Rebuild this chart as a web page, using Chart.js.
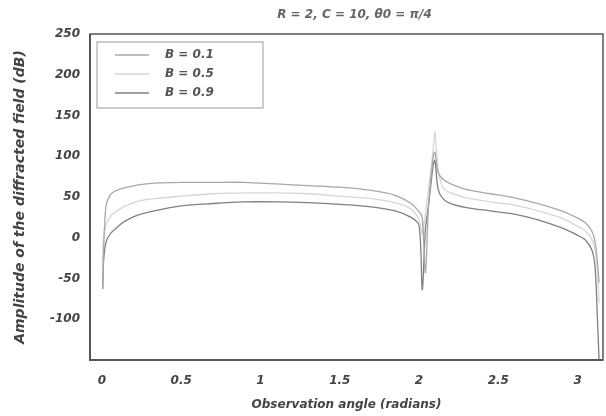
<!DOCTYPE html>
<html>
<head>
<meta charset="utf-8">
<script src="https://cdn.jsdelivr.net/npm/chart.js@4/dist/chart.umd.min.js"></script>
<style>
  html, body { margin: 0; padding: 0; background: #fff; }
  #wrap { width: 606px; height: 416px; }
</style>
</head>
<body>
<div id="wrap"><canvas id="diffChart"></canvas></div>
<script>
// observation angle (radians)
const angles = [0.005, 0.01, 0.025, 0.05, 0.08, 0.12, 0.16, 0.23, 0.33, 0.5, 0.7, 0.9, 1.1, 1.3, 1.5, 1.7, 1.85, 1.95, 2.0, 2.02, 2.04, 2.06, 2.09, 2.10, 2.12, 2.15, 2.2, 2.3, 2.45, 2.6, 2.75, 2.9, 3.0, 3.05, 3.09, 3.11, 3.125, 3.135];
// amplitude (dB)
const ampB01 = [-63, -20, 38, 52, 57, 60, 62, 65, 67, 68, 68, 68, 66, 64, 62, 58, 52, 42, 32, 25, -43, 40, 100, 105, 80, 72, 66, 59, 54, 49, 42, 33, 24, 18, 8, -5, -30, -55];
const ampB05 = [-40, 0, 15, 25, 31, 36, 40, 45, 48, 51, 54, 55, 55, 54, 51, 48, 43, 35, 22, 5, 30, 60, 110, 130, 85, 62, 55, 49, 44, 40, 33, 24, 14, 8, -2, -15, -40, -80];
const ampB09 = [-63, -31, -6, 4, 10, 17, 22, 28, 33, 39, 42, 44, 44, 43, 41, 38, 33, 25, 15, -64, 10, 40, 90, 95, 60, 48, 42, 37, 33, 29, 22, 12, 3, -3, -15, -36, -100, -150];
const seriesLabels = ['B = 0.1', 'B = 0.5', 'B = 0.9'];
const xTicks = [0, 0.5, 1, 1.5, 2, 2.5, 3];
const yTicks = [250, 200, 150, 100, 50, 0, -50, -100];
const chartTitle = 'R = 2, C = 10, θ0 = π/4';

const fam = '"DejaVu Sans"';
const tickFont = { family: fam, size: 12, weight: 'bold', style: 'italic' };

function pts(vals) {
    return angles.map((a, i) => ({ x: a, y: vals[i] }));
}

// frame, title over the plot, and boxed legend inside the plot
const framePlugin = {
    id: 'frame',
    afterDraw(chart) {
        const { ctx, chartArea: a } = chart;
        ctx.save();
        ctx.strokeStyle = '#555';
        ctx.lineWidth = 1.5;
        ctx.strokeRect(a.left, a.top, a.right - a.left, a.bottom - a.top);
        ctx.lineWidth = 2;
        ctx.beginPath();
        ctx.moveTo(a.left, a.top);
        ctx.lineTo(a.left, a.bottom);
        ctx.lineTo(a.right, a.bottom);
        ctx.stroke();

        ctx.font = 'italic bold 12px ' + fam;
        ctx.fillStyle = '#666';
        ctx.textAlign = 'center';
        ctx.textBaseline = 'middle';
        ctx.fillText(chartTitle, (a.left + a.right) / 2 + 8, 15);

        const bx = a.left + 7, by = a.top + 8, bw = 166, bh = 66;
        ctx.strokeStyle = '#999';
        ctx.lineWidth = 1;
        ctx.strokeRect(bx, by, bw, bh);
        ctx.textAlign = 'left';
        ctx.fillStyle = '#555';
        chart.data.datasets.forEach((ds, i) => {
            const yy = by + 13 + i * 19;
            ctx.strokeStyle = ds.borderColor;
            ctx.lineWidth = 1.3;
            ctx.beginPath();
            ctx.moveTo(bx + 18, yy);
            ctx.lineTo(bx + 52, yy);
            ctx.stroke();
            ctx.fillText(ds.label, bx + 68, yy);
        });
        ctx.restore();
    }
};

new Chart(document.getElementById('diffChart'), {
    type: 'scatter',
    data: {
        datasets: [
            { label: seriesLabels[0], data: pts(ampB01), borderColor: '#a8a8a8' },
            { label: seriesLabels[1], data: pts(ampB05), borderColor: '#d6d6d6' },
            { label: seriesLabels[2], data: pts(ampB09), borderColor: '#808080' }
        ].map(d => Object.assign(d, { showLine: true, pointRadius: 0, borderWidth: 1.3, tension: 0.3, fill: false }))
    },
    options: {
        responsive: true,
        maintainAspectRatio: false,
        animation: false,
        layout: { padding: { top: 34, right: 3 } },
        plugins: {
            legend: { display: false },
            tooltip: { enabled: false },
            title: { display: false }
        },
        scales: {
            x: {
                type: 'linear',
                min: -0.075,
                max: 3.16,
                afterBuildTicks: s => { s.ticks = xTicks.map(v => ({ value: v })); },
                afterFit: s => { s.height = 56; },
                grid: { display: false, drawTicks: false },
                border: { display: false },
                ticks: { color: '#444', font: tickFont, padding: 14, maxRotation: 0, callback: v => String(v) },
                title: { display: true, text: 'Observation angle (radians)', color: '#444', font: tickFont, padding: { top: 4, bottom: 4 } }
            },
            y: {
                min: -150,
                max: 250,
                afterBuildTicks: s => { s.ticks = yTicks.map(v => ({ value: v })); },
                afterFit: s => { s.width = 90; },
                grid: { display: false, drawTicks: false },
                border: { display: false },
                ticks: { color: '#444', font: tickFont, padding: 10, callback: v => String(v) },
                title: { display: true, text: 'Amplitude of the diffracted field (dB)', color: '#444', font: { family: fam, size: 14, weight: 'bold', style: 'italic' }, padding: { top: 12, bottom: 4 } }
            }
        }
    },
    plugins: [framePlugin]
});
</script>
</body>
</html>
